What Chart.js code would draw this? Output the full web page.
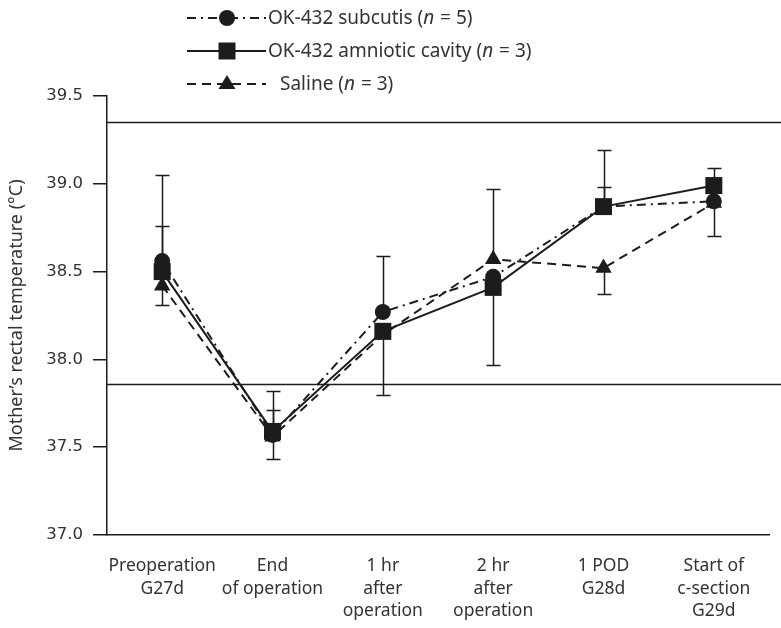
<!DOCTYPE html>
<html>
<head>
<meta charset="utf-8">
<script src="https://cdn.jsdelivr.net/npm/chart.js@4"></script>
<style>
  html, body { margin: 0; padding: 0; background: #fff; }
  #wrap { width: 781px; height: 628px; }
</style>
</head>
<body>
<div id="wrap"><canvas id="tempChart" width="781" height="628"></canvas></div>
<script>
const categories = [
    ['Preoperation', 'G27d'],
    ['End', 'of operation'],
    ['1 hr', 'after', 'operation'],
    ['2 hr', 'after', 'operation'],
    ['1 POD', 'G28d'],
    ['Start of', 'c-section', 'G29d']
];
const subcutis = [38.56, 37.57, 38.27, 38.47, 38.87, 38.90];
const amniotic = [38.50, 37.59, 38.16, 38.41, 38.87, 38.99];
const saline = [38.42, 37.56, 38.14, 38.57, 38.52, 38.89];
// one-sided error bars (+ up, - down)
const subcutisErr = [0.49, 0.25, 0.32, 0, 0.11, -0.20];
const amnioticErr = [0.26, 0.12, 0, -0.44, 0.32, 0.10];
const salineErr = [-0.11, -0.13, -0.34, 0.40, -0.15, 0];
const yTicks = [37.0, 37.5, 38.0, 38.5, 39.0, 39.5];
const refLines = [39.35, 37.86];

const ink = '#1c1c1c';
const textColor = '#333';
const labelFont = "'Noto Sans', sans-serif";

const styles = [
    { dash: [9, 5, 2, 5], point: 'circle' },
    { dash: [], point: 'rect' },
    { dash: [9, 6], point: 'triangle' }
];

function drawMarker(ctx, type, x, y) {
    ctx.beginPath();
    if (type === 'circle') {
        ctx.arc(x, y, 8, 0, Math.PI * 2);
    } else if (type === 'rect') {
        ctx.rect(x - 8.5, y - 8.5, 17, 17);
    } else {
        ctx.moveTo(x, y - 9);
        ctx.lineTo(x + 8.5, y + 5);
        ctx.lineTo(x - 8.5, y + 5);
        ctx.closePath();
    }
    ctx.fillStyle = ink;
    ctx.fill();
}

const extras = {
    id: 'extras',
    beforeDatasetsDraw(chart) {
        const ctx = chart.ctx;
        const area = chart.chartArea;
        const y = chart.scales.y;
        ctx.save();
        ctx.strokeStyle = ink;
        ctx.lineWidth = 1.5;
        refLines.forEach(v => {
            const py = Math.round(y.getPixelForValue(v)) + 0.5;
            ctx.beginPath();
            ctx.moveTo(area.left, py);
            ctx.lineTo(chart.width, py);
            ctx.stroke();
        });
        const errs = [subcutisErr, amnioticErr, salineErr];
        chart.data.datasets.forEach((ds, i) => {
            const meta = chart.getDatasetMeta(i);
            ds.data.forEach((v, j) => {
                const e = errs[i][j];
                if (!e) return;
                const px = Math.round(meta.data[j].x) + 0.5;
                const y0 = y.getPixelForValue(v);
                const y1 = Math.round(y.getPixelForValue(v + e)) + 0.5;
                ctx.beginPath();
                ctx.moveTo(px, y0);
                ctx.lineTo(px, y1);
                ctx.moveTo(px - 7, y1);
                ctx.lineTo(px + 7, y1);
                ctx.stroke();
            });
        });
        ctx.restore();
    },
    afterDraw(chart) {
        const ctx = chart.ctx;
        const rows = [
            { y: 18, parts: ['OK-432 subcutis (', 'n', ' = 5)'], textX: 268 },
            { y: 51, parts: ['OK-432 amniotic cavity (', 'n', ' = 3)'], textX: 268 },
            { y: 84, parts: ['Saline (', 'n', ' = 3)'], textX: 280 }
        ];
        ctx.save();
        rows.forEach((r, i) => {
            ctx.strokeStyle = ink;
            ctx.lineWidth = 2;
            ctx.setLineDash(styles[i].dash);
            ctx.beginPath();
            ctx.moveTo(187, r.y);
            ctx.lineTo(266, r.y);
            ctx.stroke();
            ctx.setLineDash([]);
            drawMarker(ctx, styles[i].point, 227, r.y);
            let x = r.textX;
            ctx.fillStyle = textColor;
            ctx.textBaseline = 'middle';
            r.parts.forEach((p, k) => {
                ctx.font = (k === 1 ? 'italic ' : '') + '19px ' + labelFont;
                ctx.fillText(p, x, r.y + 1);
                x += ctx.measureText(p).width + (k === 1 ? 1 : 0);
            });
        });
        ctx.restore();
    }
};

const makeSet = (label, data, i) => ({
    label: label,
    data: data,
    borderColor: ink,
    backgroundColor: ink,
    borderWidth: 2,
    borderDash: styles[i].dash,
    pointStyle: styles[i].point,
    pointRadius: i === 0 ? 8 : (i === 1 ? 12 : 9.5),
    pointBorderWidth: 0,
    tension: 0
});

new Chart(document.getElementById('tempChart').getContext('2d'), {
    type: 'line',
    data: {
        labels: categories,
        datasets: [
            makeSet('OK-432 subcutis (n = 5)', subcutis, 0),
            makeSet('OK-432 amniotic cavity (n = 3)', amniotic, 1),
            makeSet('Saline (n = 3)', saline, 2)
        ]
    },
    options: {
        responsive: false,
        animation: false,
        layout: { padding: { top: 96, right: 0, left: 0, bottom: 0 } },
        plugins: {
            legend: { display: false },
            tooltip: { enabled: false }
        },
        scales: {
            x: {
                offset: true,
                grid: { display: true, drawOnChartArea: false, drawTicks: false },
                border: { display: true, color: ink, width: 1.5 },
                ticks: {
                    color: textColor,
                    padding: 20,
                    maxRotation: 0,
                    autoSkip: false,
                    font: { family: labelFont, size: 17.5, lineHeight: 1.28 }
                },
                afterFit: s => { s.height = 93; }
            },
            y: {
                min: 37.0,
                max: 39.5,
                afterBuildTicks: s => { s.ticks = yTicks.map(v => ({ value: v })); },
                grid: { drawOnChartArea: false, drawTicks: true, tickLength: 14, color: ink, lineWidth: 1.5 },
                border: { display: true, color: ink, width: 1.5 },
                ticks: {
                    color: textColor,
                    padding: 10,
                    font: { family: "'DejaVu Sans', sans-serif", size: 16.5 },
                    callback: v => v.toFixed(1)
                },
                title: {
                    display: true,
                    text: 'Mother\u2019s rectal temperature (\u00B0C)',
                    color: textColor,
                    padding: { top: 6, bottom: 0 },
                    font: { family: labelFont, size: 18 }
                },
                afterFit: s => { s.width = 107; }
            }
        }
    },
    plugins: [extras]
});
</script>
</body>
</html>
